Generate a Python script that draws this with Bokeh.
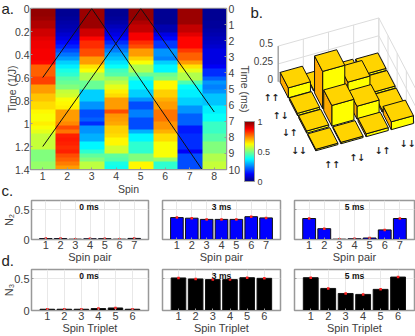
from bokeh.plotting import figure
from bokeh.embed import file_html
from bokeh.resources import INLINE
from bokeh.layouts import column, row
from bokeh.models import (Range1d, LinearAxis, FixedTicker, LinearColorMapper, ColorBar, Label)
from bokeh.core.properties import value
import numpy as np

# ---------- data ----------
spin_1 = [.98,.98,.97,.95,.95,.92,.92,.90,.89,.89,.88,.88,.88,.87,.78,.78,.78,.81,.81,.72,.72,.68,.68,.66,.66,.63,.62,.62,.64,.62,.60,.57,.57,.57,.57,.50,.50,.50,.52,.52]
spin_2 = [.02,.02,.03,.04,.05,.06,.08,.10,.13,.16,.20,.24,.28,.33,.36,.40,.42,.46,.48,.50,.57,.58,.62,.63,.64,.72,.72,.72,.74,.80,.76,.84,.85,.84,.83,.84,.80,.78,.75,.72]
spin_3 = [.97,.97,.97,.97,.97,.92,.92,.87,.83,.83,.80,.80,.72,.72,.65,.62,.55,.55,.48,.48,.33,.33,.33,.27,.27,.20,.20,.22,.17,.27,.27,.30,.30,.37,.37,.42,.47,.50,.56,.56]
spin_4 = [.02,.02,.03,.04,.06,.08,.10,.13,.17,.21,.25,.29,.32,.35,.38,.44,.46,.52,.56,.60,.64,.66,.72,.72,.72,.80,.73,.72,.71,.67,.67,.66,.63,.63,.58,.58,.47,.46,.40,.39]
spin_5 = [.98,.98,.98,.95,.93,.93,.88,.88,.83,.80,.72,.72,.67,.62,.55,.55,.48,.42,.37,.37,.33,.33,.27,.20,.20,.25,.25,.20,.20,.20,.30,.37,.37,.42,.42,.42,.50,.50,.63,.63]
spin_6 = [.02,.02,.02,.02,.05,.05,.10,.13,.18,.18,.27,.27,.25,.33,.37,.37,.48,.50,.63,.63,.67,.67,.70,.72,.72,.76,.76,.76,.73,.73,.70,.66,.66,.62,.62,.62,.62,.52,.42,.42]
spin_7 = [.97,.97,.97,.97,.93,.93,.90,.87,.87,.87,.82,.78,.78,.72,.65,.60,.55,.55,.45,.38,.36,.36,.33,.33,.27,.27,.22,.22,.22,.15,.15,.17,.17,.17,.17,.12,.20,.20,.20,.20]
spin_8 = [.02,.02,.02,.03,.03,.04,.05,.06,.07,.08,.10,.10,.10,.10,.12,.17,.17,.22,.27,.25,.27,.32,.32,.32,.36,.36,.38,.38,.43,.43,.43,.46,.46,.50,.50,.50,.55,.55,.57,.57]

line1_spin = [1, 3, 7.5]
line1_time = [0.6, 0, 1.4]
line2_spin = [1, 5, 8]
line2_time = [1.2, 0, 0.9]

time_j_ticks = [0, 0.2, 0.4, 0.6, 0.8, 1, 1.2, 1.4]
time_ms_ticks = [0, 1, 2, 3, 4, 5, 6, 7, 8, 9, 10]

rho = [[.14, .02, .04, .03],
       [.03, .52, .27, .03],
       [.03, .29, .18, .03],
       [.02, .02, .04, .11]]
spin_states = ["↑↑", "↑↓", "↓↑", "↓↓"]

n2_0ms = [.015, .015, .005, .012, .014, .005, .018]
n2_3ms = [.365, .355, .335, .335, .335, .38, .36]
n2_5ms = [.35, .18, .005, .012, .025, .16, .35]
n3_0ms = [.02, .02, .02, .03, .04, .02]
n3_3ms = [.516, .50, .49, .49, .52, .51]
n3_5ms = [.52, .35, .27, .255, .335, .53]

panel_letters = ["a.", "b.", "c.", "d."]

# ---------- style ----------
FONT = "Liberation Sans"
TXT = "#404040"
FRAME = "#999999"

def jet(n=256):
    out = []
    for i in range(n):
        t = i / (n - 1)
        r = np.clip(1.5 - abs(4 * t - 3), 0, 1)
        g = np.clip(1.5 - abs(4 * t - 2), 0, 1)
        b = np.clip(1.5 - abs(4 * t - 1), 0, 1)
        out.append("#%02x%02x%02x" % (int(r * 255), int(g * 255), int(b * 255)))
    return out

def style_axis(ax, size="10.5px"):
    ax.major_label_text_font = FONT
    ax.major_label_text_font_size = size
    ax.major_label_text_color = TXT
    ax.axis_label_text_font = FONT
    ax.axis_label_text_font_style = "normal"
    ax.axis_label_text_font_size = "10.5px"
    ax.axis_label_text_color = TXT
    ax.axis_line_color = FRAME
    ax.major_tick_line_color = FRAME
    ax.minor_tick_line_color = None
    ax.major_tick_in = 2
    ax.major_tick_out = 0
    ax.major_label_standoff = 2
    ax.axis_label_standoff = 0

def note(p, x, y, text, size="15px", align="left", style="normal", color="#222222"):
    p.add_layout(Label(x=x, y=y, x_units="canvas", y_units="canvas", text=text,
                       text_font=FONT, text_font_size=size, text_align=align,
                       text_baseline="middle", text_font_style=style, text_color=color))

# ---------- a. heat map ----------
A_H = 197
a = figure(width=274, height=A_H, output_backend="svg", toolbar_location=None,
           x_range=Range1d(0.5, 8.5), y_range=Range1d(1.4, 0),
           min_border_left=30, min_border_right=48, min_border_top=8, min_border_bottom=27)
a.grid.visible = False
a.background_fill_color = None
a.border_fill_color = None
a.outline_line_color = FRAME
a.outline_line_width = 1.5
a.extra_y_ranges = {"ms": Range1d(10, 0)}

heat = np.array([spin_1, spin_2, spin_3, spin_4, spin_5, spin_6, spin_7, spin_8]).T
mapper = LinearColorMapper(palette=jet(), low=0, high=1)
a.image(image=[heat], x=0.5, y=0, dw=8, dh=1.4, color_mapper=mapper)
a.line(line1_spin, line1_time, line_color="#111111", line_width=1)
a.line(line2_spin, line2_time, line_color="#111111", line_width=1)

a.xaxis.ticker = FixedTicker(ticks=[1, 2, 3, 4, 5, 6, 7, 8])
a.xaxis.axis_label = "Spin"
a.yaxis.ticker = FixedTicker(ticks=time_j_ticks)
a.yaxis.major_label_overrides = {t: str(t) for t in time_j_ticks}
a.yaxis.axis_label = "Time (1/J)"
ax_r = LinearAxis(y_range_name="ms", ticker=FixedTicker(ticks=time_ms_ticks), axis_label="Time (ms)")
a.add_layout(ax_r, "right")
for ax in [a.xaxis[0], a.yaxis[0], ax_r]:
    style_axis(ax)
a.yaxis[0].axis_label_standoff = -6
a.yaxis[0].major_label_standoff = 1
ax_r.axis_label_standoff = -4

cb = ColorBar(color_mapper=mapper, ticker=FixedTicker(ticks=[0, 0.5, 1]), width=10, height=60,
              location=(214, -12), major_label_text_font=FONT, major_label_text_font_size="9px",
              major_label_text_color=TXT, major_tick_line_color=None, bar_line_color=FRAME,
              background_fill_color=None, border_line_color=None, padding=0, label_standoff=3,
              major_label_overrides={0: "0", 0.5: "0.5", 1: "1"})
a.add_layout(cb, "center")

# ---------- b. 3D bars ----------
b = figure(width=165, height=A_H, output_backend="svg", toolbar_location=None,
           x_range=Range1d(250, 415), y_range=Range1d(170, 8),
           x_axis_type=None, y_axis_type=None,
           min_border_left=0, min_border_right=0, min_border_top=8, min_border_bottom=27)
b.margin = (0, 0, 0, -24)
b.grid.visible = False
b.background_fill_color = None
b.border_fill_color = None
b.outline_line_color = None

def proj(u, v, z):
    x = 268 + 302 * u - 110 * v
    y = 458 - 85 * u - 213 * v - 215 * z
    return 225 + x / 3, y / 3

wall_x, wall_y = [], []
for z in [0, .25, .5]:
    pts = [proj(0, 1, z), proj(1, 1, z), proj(1, 0, z)]
    wall_x.append([q[0] for q in pts])
    wall_y.append([q[1] for q in pts])
for t in [0, .25, .5, .75, 1]:
    for q0, q1 in [(proj(t, 1, 0), proj(t, 1, .5)), (proj(1, t, 0), proj(1, t, .5))]:
        wall_x.append([q0[0], q1[0]])
        wall_y.append([q0[1], q1[1]])
b.multi_line(wall_x, wall_y, line_color="#dcdcdc", line_width=1)
b.multi_line([[proj(0, 1, 0)[0], proj(0, 1, .5)[0]]], [[proj(0, 1, 0)[1], proj(0, 1, .5)[1]]],
             line_color="#888888", line_width=1)

fx, fy, fc = [], [], []
half = 0.11
for i in range(4):
    for j in range(3, -1, -1):
        uc, vc = (j + .5) / 4, (3 - i + .5) / 4
        u0, u1, v0, v1 = uc - half, uc + half, vc - half, vc + half
        h = rho[i][j]
        faces = [
            ([(u0, v0, 0), (u1, v0, 0), (u1, v0, h), (u0, v0, h)], "#ffff00"),
            ([(u0, v0, 0), (u0, v1, 0), (u0, v1, h), (u0, v0, h)], "#ffaa00"),
            ([(u0, v0, h), (u1, v0, h), (u1, v1, h), (u0, v1, h)], "#ffd400"),
        ]
        for pts, col in faces:
            pr = [proj(*q) for q in pts]
            fx.append([q[0] for q in pr])
            fy.append([q[1] for q in pr])
            fc.append(col)
b.patches(fx, fy, fill_color=fc, line_color="#111111", line_width=1)

lab_x, lab_y, lab_t = [], [], []
for k, s in enumerate(spin_states):
    qx, qy = proj(0, (3 - k + .5) / 4, 0)
    lab_x.append(qx - 11); lab_y.append(qy + 6); lab_t.append(s)
    qx, qy = proj((k + .5) / 4, 0, 0)
    lab_x.append(qx + 5); lab_y.append(qy + 15); lab_t.append(s)
b.text(lab_x, lab_y, text=lab_t, text_font=value("DejaVu Sans Mono"), text_font_size="13px",
       text_align="center", text_baseline="middle", text_color="#222222")
z_labels = ["0", "0.25", "0.5"]
z_vals = [0, .25, .5]
zx = [proj(0, 1, z)[0] - 5 for z in z_vals]
zy = [proj(0, 1, z)[1] - 3 for z in z_vals]
b.text(zx, zy, text=z_labels, text_font=value(FONT), text_font_size="10px",
       text_align="right", text_baseline="middle", text_color=TXT)

# ---------- c., d. bars ----------
def bar_panel(vals, color, title, xlabel, w, h, bl, br, bt, bb, xr, ylabel=None, show_y=False):
    x = list(range(1, len(vals) + 1))
    p = figure(width=w, height=h, output_backend="svg", toolbar_location=None,
               x_range=Range1d(*xr), y_range=Range1d(0, 0.65),
               min_border_left=bl, min_border_right=br, min_border_top=bt, min_border_bottom=bb)
    p.background_fill_color = None
    p.border_fill_color = None
    p.outline_line_color = FRAME
    p.outline_line_width = 1.5
    p.grid.grid_line_color = "#e8e8e8"
    p.grid.grid_line_width = 1
    p.xgrid.ticker = FixedTicker(ticks=x)
    p.ygrid.ticker = FixedTicker(ticks=[0.5])
    p.vbar(x=x, top=vals, width=0.85, fill_color=color, line_color="#111111", line_width=1)
    p.scatter(x, vals, size=2.5, marker="square", fill_color="#ff2020", line_color=None)
    p.xaxis.ticker = FixedTicker(ticks=x)
    p.xaxis.axis_label = xlabel
    p.yaxis.ticker = FixedTicker(ticks=[0, 0.5])
    style_axis(p.xaxis[0], "11px")
    style_axis(p.yaxis[0], "11px")
    p.xaxis[0].axis_label_text_font_size = "11px"
    p.yaxis[0].axis_label_text_font_size = "11px"
    p.xaxis[0].axis_label_standoff = -1
    p.xaxis[0].major_label_standoff = 1
    if ylabel:
        p.yaxis.axis_label = ylabel
        p.yaxis[0].axis_label_standoff = -4
    if show_y:
        p.yaxis.major_label_overrides = {0: "0", 0.5: "0.5"}
    else:
        p.yaxis.major_label_overrides = {0: "", 0.5: ""}
        p.yaxis[0].major_label_standoff = 0
    note(p, bl + (w - bl - br) / 2, bt + 6, title, "8.5px", "center", "bold", "#111111")
    return p

XR7 = (0.03, 7.97)
XR6 = (0.07, 6.94)
c1 = bar_panel(n2_0ms, "#0000ff", "0 ms", "Spin pair", 155, 68, 29, 7, 3, 25, XR7, "N₂", True)
c2 = bar_panel(n2_3ms, "#0000ff", "3 ms", "Spin pair", 133, 68, 7, 8, 3, 25, XR7)
c3 = bar_panel(n2_5ms, "#0000ff", "5 ms", "Spin pair", 127, 68, 6, 1, 3, 25, XR7)
d1 = bar_panel(n3_0ms, "#000000", "0 ms", "Spin Triplet", 155, 71, 29, 7, 4, 26, XR6, "N₃", True)
d2 = bar_panel(n3_3ms, "#000000", "3 ms", "Spin Triplet", 133, 71, 7, 8, 4, 26, XR6)
d3 = bar_panel(n3_5ms, "#000000", "5 ms", "Spin Triplet", 127, 71, 6, 1, 4, 26, XR6)

# ---------- panel letters on a transparent sheet over the whole page ----------
sheet = figure(width=415, height=336, output_backend="svg", toolbar_location=None,
               x_range=Range1d(0, 415), y_range=Range1d(336, 0),
               x_axis_type=None, y_axis_type=None,
               min_border_left=0, min_border_right=0, min_border_top=0, min_border_bottom=0)
sheet.margin = (-336, 0, 0, 0)
sheet.grid.visible = False
sheet.background_fill_color = None
sheet.border_fill_color = None
sheet.outline_line_color = None
sheet.text([1, 250, 1, 1], [8, 12, 190, 260], text=panel_letters, text_font=value(FONT),
           text_font_size="15px", text_align="left", text_baseline="middle", text_color="#222222")

root = column(row(a, b, spacing=0), row(c1, c2, c3, spacing=0), row(d1, d2, d3, spacing=0), sheet, spacing=0)
open("out.html", "w").write(file_html(root, INLINE).replace("<head>", "<head><style>html,body{margin:0;padding:0;overflow:hidden}</style>", 1))
